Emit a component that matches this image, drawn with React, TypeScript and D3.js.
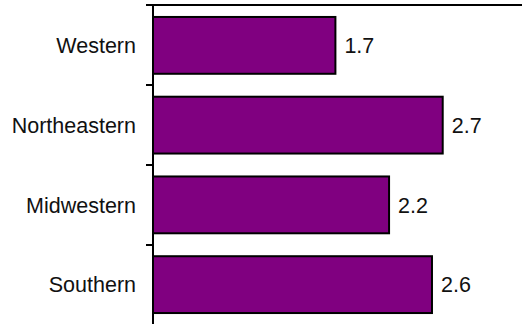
import React from "react";
import * as d3 from "d3";

const categories = ["Western", "Northeastern", "Midwestern", "Southern"];
const values = [1.7, 2.7, 2.2, 2.6];

export default function App() {
  const W = 522;
  const H = 324;
  const x0 = 153;
  const x = d3.scaleLinear().domain([0, 3.5]).range([x0, x0 + 3.5 * 107.3]);
  const y = d3
    .scaleBand<string>()
    .domain(categories)
    .range([5, 325])
    .paddingInner(0.2875)
    .paddingOuter(0.15);
  const bandStart = 5;
  const boundaries = d3.range(categories.length + 1).map((i) => bandStart + i * 80);
  const font = "'Liberation Sans', Arial, sans-serif";
  const fs = 21.5;
  return (
    <svg
      width={W}
      height={H}
      style={{ position: "absolute", left: 0, top: 0, background: "#fff" }}
    >
      {categories.map((c, i) => {
        const v = values[i];
        const by = y(c)!;
        const bh = y.bandwidth();
        return (
          <g key={c}>
            <rect
              x={x(0)}
              y={by}
              width={x(v) - x(0)}
              height={bh}
              fill="#800080"
              stroke="#000"
              strokeWidth={2}
            />
            <text
              x={x(v) + 9}
              y={by + bh / 2}
              dy="0.36em"
              fontFamily={font}
              fontSize={fs}
              fill="#111"
            >
              {v.toFixed(1)}
            </text>
            <text
              x={136}
              y={by + bh / 2}
              dy="0.36em"
              textAnchor="end"
              fontFamily={font}
              fontSize={fs}
              fill="#111"
            >
              {c}
            </text>
          </g>
        );
      })}
      <line x1={x0} x2={W} y1={5} y2={5} stroke="#000" strokeWidth={2} />
      <line x1={x0} x2={x0} y1={4} y2={H} stroke="#000" strokeWidth={2} />
      {boundaries.map((b, i) => (
        <line key={i} x1={146} x2={x0} y1={b} y2={b} stroke="#000" strokeWidth={2} />
      ))}
    </svg>
  );
}
